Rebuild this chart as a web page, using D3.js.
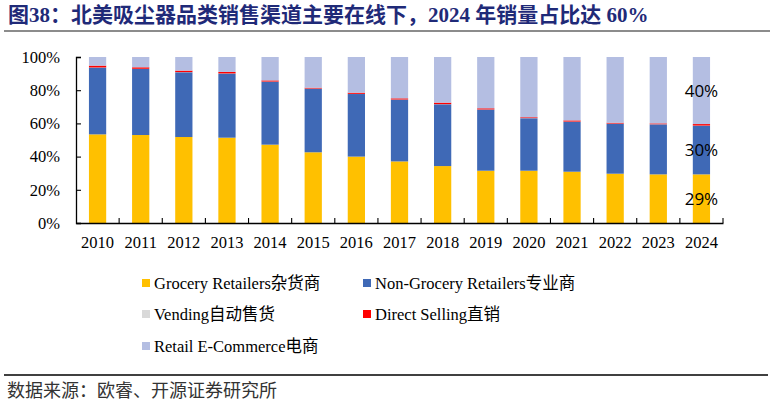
<!DOCTYPE html>
<html>
<head>
<meta charset="utf-8">
<script src="https://cdn.jsdelivr.net/npm/d3@7/dist/d3.min.js"></script>
<style>
  html, body { margin: 0; padding: 0; background: #fff; }
  svg { display: block; }
</style>
</head>
<body>
<svg id="chart" width="774" height="405"></svg>
<script>
// ---- Data (percent shares) ----
const years = ["2010","2011","2012","2013","2014","2015","2016","2017","2018","2019","2020","2021","2022","2023","2024"];
const grocery    = [53.4, 53.0, 51.8, 51.4, 47.2, 42.6, 40.0, 37.1, 34.3, 31.5, 31.5, 30.9, 29.7, 29.3, 29.3];
const nonGrocery = [40.2, 39.8, 39.0, 38.6, 37.9, 38.3, 37.7, 37.2, 37.2, 36.8, 31.6, 30.1, 30.1, 30.1, 29.3];
const vending    = [0.1, 0.1, 0.1, 0.1, 0.1, 0.1, 0.1, 0.1, 0.1, 0.1, 0.1, 0.1, 0.1, 0.1, 0.1];
const direct     = [1.1, 0.9, 0.9, 0.9, 0.7, 0.5, 0.7, 0.7, 0.9, 0.7, 0.5, 0.7, 0.5, 0.5, 0.9];
const ecommerce  = [5.2, 6.2, 8.2, 9.0, 14.1, 18.5, 21.5, 24.9, 27.5, 30.9, 36.3, 38.2, 39.6, 40.0, 40.4];
const seriesKeys   = ["grocery","nonGrocery","vending","direct","ecommerce"];
const seriesNames  = ["Grocery Retailers杂货商","Non-Grocery Retailers专业商","Vending自动售货","Direct Selling直销","Retail E-Commerce电商"];
const seriesColors = ["#FFC000","#3F69B6","#D9D9D9","#FF0000","#B4BEE2"];
const yTicks = [0, 20, 40, 60, 80, 100];
const labelYear = "2024";
const labelSeries = ["grocery","nonGrocery","ecommerce"];
const labelTexts  = ["29%","30%","40%"];
const titleText  = "图38：北美吸尘器品类销售渠道主要在线下，2024 年销量占比达 60%";
const sourceText = "数据来源：欧睿、开源证券研究所";

// ---- Build table ----
const seriesArrays = {grocery, nonGrocery, vending, direct, ecommerce};
const table = years.map((y, i) => {
  const row = {year: y};
  seriesKeys.forEach(k => row[k] = seriesArrays[k][i]);
  return row;
});

const svg = d3.select("#chart");
const serif = "'Liberation Serif','Times New Roman',serif";
const cjk = "'Liberation Serif','Noto Sans CJK SC',serif";

// Title
svg.append("text")
  .attr("x", 8).attr("y", 22)
  .attr("font-family", "'Liberation Serif','Noto Sans CJK SC',serif")
  .attr("font-weight", "bold")
  .attr("font-size", 21)
  .attr("fill", "#1F2A78")
  .text(titleText);
svg.append("line")
  .attr("x1", 4).attr("x2", 770).attr("y1", 31).attr("y2", 31)
  .attr("stroke", "#666").attr("stroke-width", 1.6);

// Scales
const plotLeft = 76, plotRight = 723, plotTop = 57, plotBottom = 223;
const x = d3.scaleBand().domain(years).range([plotLeft, plotRight]).paddingInner(0.6).paddingOuter(0.3);
const y = d3.scaleLinear().domain([0, 100]).range([plotBottom, plotTop]);

// Stacks
const stack = d3.stack().keys(seriesKeys);
const stacked = stack(table);
const colorOf = d3.scaleOrdinal().domain(seriesKeys).range(seriesColors);

svg.append("g").selectAll("g")
  .data(stacked)
  .join("g")
  .attr("fill", d => colorOf(d.key))
  .selectAll("rect")
  .data(d => d)
  .join("rect")
  .attr("x", d => x(d.data.year))
  .attr("width", x.bandwidth())
  .attr("y", d => y(d[1]))
  .attr("height", d => Math.max(0, y(d[0]) - y(d[1])));

// Y axis
const yAxis = d3.axisLeft(y).tickValues(yTicks).tickSize(-5).tickPadding(16).tickFormat(d => d + "%");
const gy = svg.append("g").attr("transform", `translate(${plotLeft},0)`).call(yAxis);
gy.select(".domain").attr("stroke", "#000").attr("stroke-width", 1.3);
gy.selectAll(".tick line").attr("stroke", "#000").attr("stroke-width", 1.1);
gy.selectAll(".tick text").attr("font-family", serif).attr("font-size", 16.5).attr("fill", "#000");

// X axis (labels)
const xAxis = d3.axisBottom(x).tickSize(0).tickPadding(13);
const gx = svg.append("g").attr("transform", `translate(0,${plotBottom})`).call(xAxis);
gx.select(".domain").attr("stroke", "#000").attr("stroke-width", 1.3);
gx.selectAll(".tick text").attr("font-family", serif).attr("font-size", 16.5).attr("fill", "#000");

// X boundary ticks (between categories, pointing up)
const boundaries = years.map(yr => x(yr) + x.bandwidth() + x.step() * x.paddingInner() / 2);
svg.append("g").selectAll("line")
  .data(boundaries)
  .join("line")
  .attr("x1", d => d).attr("x2", d => d)
  .attr("y1", plotBottom).attr("y2", plotBottom - 5)
  .attr("stroke", "#000").attr("stroke-width", 1.1);

// Data labels on 2024
const labelRow = stacked.map(s => s.find(d => d.data.year === labelYear));
labelSeries.forEach((key, i) => {
  const idx = seriesKeys.indexOf(key);
  const seg = labelRow[idx];
  svg.append("text")
    .attr("x", x(labelYear) + x.bandwidth() / 2)
    .attr("y", y((seg[0] + seg[1]) / 2))
    .attr("dy", "0.36em")
    .attr("text-anchor", "middle")
    .attr("font-family", "'Open Sans','Liberation Sans',sans-serif")
    .attr("font-size", 17)
    .attr("fill", "#000")
    .text(labelTexts[i]);
});

// Legend
const legendPos = [
  {x: 142, y: 283}, {x: 363, y: 283},
  {x: 142, y: 314}, {x: 363, y: 314},
  {x: 142, y: 346}
];
const lg = svg.append("g").selectAll("g")
  .data(seriesKeys)
  .join("g")
  .attr("transform", (d, i) => `translate(${legendPos[i].x},${legendPos[i].y})`);
lg.append("rect")
  .attr("x", 0).attr("y", -4).attr("width", 8).attr("height", 8)
  .attr("fill", d => colorOf(d));
lg.append("text")
  .attr("x", 12).attr("y", 0).attr("dy", "0.35em")
  .attr("font-family", cjk)
  .attr("font-size", 16.5)
  .attr("fill", "#000")
  .text((d, i) => seriesNames[i]);

// Bottom line & source
svg.append("line")
  .attr("x1", 4).attr("x2", 768).attr("y1", 375).attr("y2", 375)
  .attr("stroke", "#000").attr("stroke-width", 1.5);
svg.append("text")
  .attr("x", 7).attr("y", 397)
  .attr("font-family", "'Noto Sans CJK SC',sans-serif")
  .attr("font-size", 18)
  .attr("fill", "#333")
  .text(sourceText);
</script>
</body>
</html>
